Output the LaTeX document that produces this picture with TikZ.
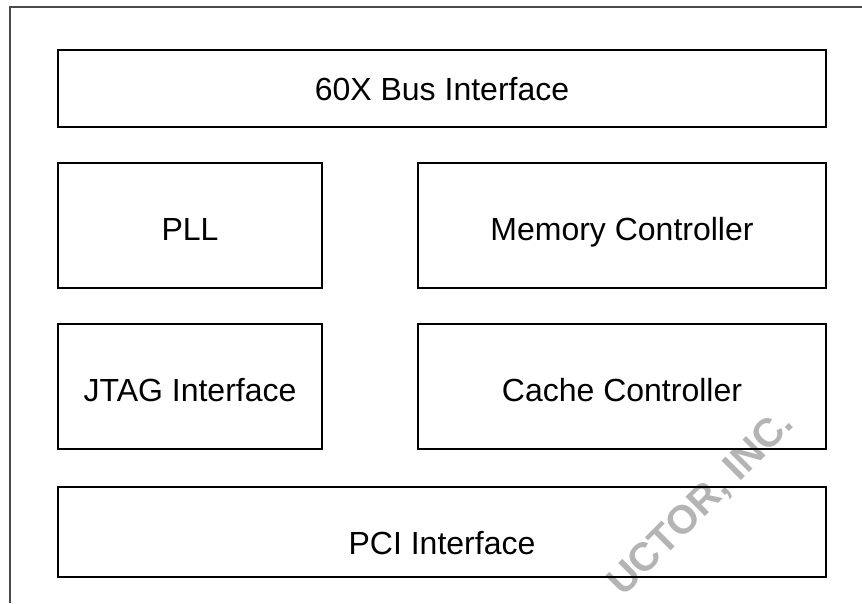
\documentclass[tikz,border=0pt]{standalone}
\usepackage{fontspec}
\setmainfont{Liberation Sans}
\definecolor{wmgray}{HTML}{B4B4B4}
\definecolor{framegray}{HTML}{4A4A4A}
\begin{document}
\begin{tikzpicture}[x=1pt,y=-1pt,
  blockbox/.style={draw=black, line width=1.4pt, fill=none, inner sep=0pt,
    font=\fontsize{32}{38}\selectfont, text depth=0pt, text height=23pt},
  midtext/.style={text height=30pt},
  watermark/.style={text=wmgray, font=\bfseries\fontsize{40}{44}\selectfont, rotate=45}]
\useasboundingbox (0,0) rectangle (862,603);
\begin{scope}
\clip (0,0) rectangle (862,603);
\node[watermark] (wm) at (702,504) {UCTOR, INC.};
\end{scope}
% outer frame (cropped)
\coordinate (fbl) at (10,603);
\coordinate (ftl) at (10,7);
\coordinate (ftr) at (862,7);
\draw[line width=1.4pt, framegray] (fbl) -- (ftl) -- (ftr);
% blocks
\node[blockbox, minimum width=768pt, minimum height=77pt] (bus) at (442,88.5) {60X Bus Interface};
\node[blockbox, midtext, minimum width=264pt, minimum height=125pt] (pll) at (190,225.5) {PLL};
\node[blockbox, midtext, minimum width=408pt, minimum height=125pt] (mem) at (622,225.5) {Memory Controller};
\node[blockbox, midtext, minimum width=264pt, minimum height=125pt] (jtag) at (190,386.5) {JTAG Interface};
\node[blockbox, midtext, minimum width=408pt, minimum height=125pt] (cache) at (622,386.5) {Cache Controller};
\node[blockbox, text height=45pt, minimum width=768pt, minimum height=90pt] (pci) at (442,532) {PCI Interface};
\end{tikzpicture}
\end{document}
